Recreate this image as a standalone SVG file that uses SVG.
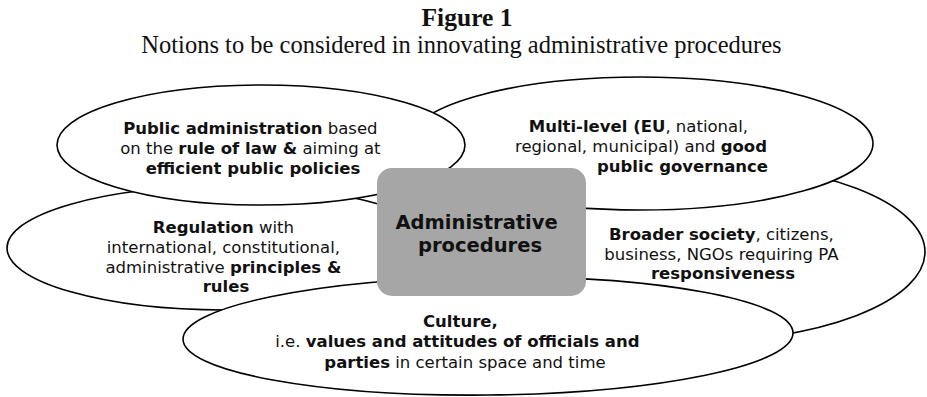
<svg xmlns="http://www.w3.org/2000/svg" width="927" height="397" viewBox="0 0 927 397">
  <style>
    .serif { font-family: "Liberation Serif", "Times New Roman", serif; fill: #111; text-anchor: middle; }
    .t { font-family: "DejaVu Sans", Verdana, sans-serif; font-size: 16.5px; fill: #111; text-anchor: middle; }
    .b { font-weight: bold; }
    .oval { fill: #fff; stroke: #000; stroke-width: 1.6; }
    .core { fill: #a6a6a6; }
  </style>

  <!-- heading -->
  <g id="heading">
    <text class="serif" x="467" y="26" font-size="25.5" font-weight="bold">Figure 1</text>
    <text class="serif" x="461.5" y="53" font-size="24.5">Notions to be considered in innovating administrative procedures</text>
  </g>

  <!-- ovals, back to front -->
  <g id="regulation">
    <ellipse class="oval" cx="225" cy="248" rx="218" ry="62"/>
    <text class="t" y="233">
      <tspan x="226"><tspan class="b">Regulation</tspan> with</tspan>
      <tspan x="226" dy="20">international, constitutional,</tspan>
      <tspan x="226" dy="19.5">administrative <tspan class="b">principles &amp;</tspan></tspan>
      <tspan x="226" dy="19.5" class="b">rules</tspan>
    </text>
  </g>

  <g id="society">
    <ellipse class="oval" cx="690" cy="252" rx="235" ry="90"/>
    <text class="t" y="239.5">
      <tspan x="724"><tspan class="b">Broader society</tspan>, citizens,</tspan>
      <tspan x="724" dy="20">business, NGOs requiring PA</tspan>
      <tspan x="723" dy="19.5" class="b">responsiveness</tspan>
    </text>
  </g>

  <g id="governance">
    <ellipse class="oval" cx="640" cy="143.5" rx="233" ry="66.5"/>
    <text class="t" y="132">
      <tspan x="641"><tspan class="b">Multi-level (EU</tspan>, national,</tspan>
      <tspan x="641" dy="20">regional, municipal) and <tspan class="b">good</tspan></tspan>
    </text>
    <text class="t b" x="768" y="172" style="text-anchor:end">public governance</text>
  </g>

  <g id="public-administration">
    <ellipse class="oval" cx="261" cy="145" rx="204" ry="60"/>
    <text class="t" y="134">
      <tspan x="253"><tspan class="b">Public administration</tspan> based</tspan>
      <tspan x="253" dy="20.3">on the <tspan class="b">rule of law &amp;</tspan> aiming at</tspan>
      <tspan x="253" dy="20" class="b">efficient public policies</tspan>
    </text>
  </g>

  <g id="culture">
    <ellipse class="oval" cx="488" cy="336" rx="305" ry="59" transform="rotate(-0.6 488 336)"/>
    <text class="t" y="327">
      <tspan x="463" class="b">Culture,</tspan>
      <tspan x="460" dy="20">i.e. <tspan class="b">values and attitudes of officials and</tspan></tspan>
      <tspan x="465" dy="20.5"><tspan class="b">parties</tspan> in certain space and time</tspan>
    </text>
  </g>

  <!-- central box -->
  <g id="administrative-procedures">
    <rect class="core" x="377" y="168" width="209" height="128" rx="15" ry="15"/>
    <text class="t b" x="480" y="228.5" style="font-size:19.5px">
      <tspan x="480">Administrative</tspan>
      <tspan x="480" dy="23.5">procedures</tspan>
    </text>
  </g>
</svg>
